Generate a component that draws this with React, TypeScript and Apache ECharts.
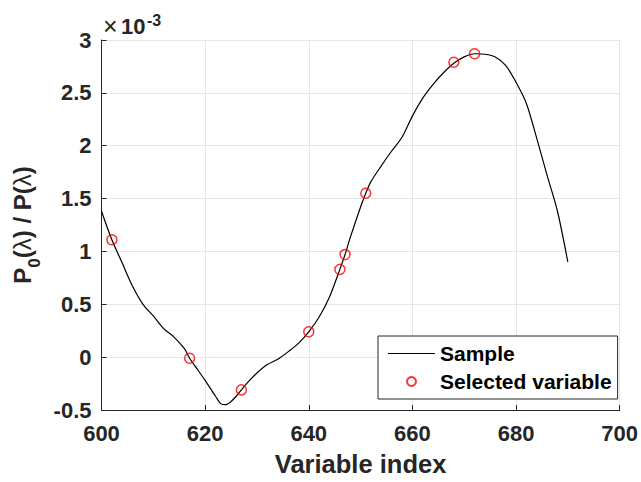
import React, { useEffect, useRef } from "react";
import * as echarts from "echarts";

// Values shown in units of 1e-3 (the axis carries the "×10^-3" multiplier)
const sampleIndex = [600, 602, 604, 606, 608, 610, 612, 614, 616, 617, 618, 620, 622, 623, 624, 625, 626, 627, 628, 630, 632, 634, 636, 638, 640, 642, 644, 646, 647, 648, 650, 651, 652, 654, 656, 658, 660, 662, 664, 666, 668, 670, 672, 674, 676, 678, 680, 682, 684, 686, 688, 690];
const sampleValue = [1.38, 1.11, 0.89, 0.67, 0.5, 0.39, 0.27, 0.19, 0.08, -0.01, -0.08, -0.22, -0.37, -0.44, -0.45, -0.42, -0.37, -0.31, -0.25, -0.15, -0.07, -0.02, 0.05, 0.13, 0.24, 0.38, 0.57, 0.83, 0.97, 1.13, 1.42, 1.55, 1.66, 1.81, 1.95, 2.08, 2.28, 2.45, 2.58, 2.69, 2.78, 2.84, 2.87, 2.865, 2.84, 2.76, 2.6, 2.4, 2.07, 1.72, 1.38, 0.9];

const selectedIndex = [602, 617, 627, 640, 646, 647, 651, 668, 672];
const selectedValue = [1.11, -0.01, -0.31, 0.24, 0.83, 0.97, 1.55, 2.79, 2.87];

const xTicks = { min: 600, max: 700, interval: 20 };
const yTicks = { min: -0.5, max: 3, interval: 0.5 };

const FONT = "'Liberation Sans', Arial, Helvetica, sans-serif";
const DARK = "#262626";

export default function App() {
  const ref = useRef<HTMLDivElement>(null);

  useEffect(() => {
    if (!ref.current) return;
    const chart = echarts.init(ref.current, undefined, { renderer: "svg" });
    chart.setOption({
      animation: false,
      backgroundColor: "#ffffff",
      grid: { left: 101.5, right: 19.3, top: 40, bottom: 70.3, containLabel: false },
      xAxis: {
        type: "value",
        min: xTicks.min,
        max: xTicks.max,
        interval: xTicks.interval,
        name: "Variable index",
        nameLocation: "middle",
        nameGap: 41,
        nameTextStyle: { fontFamily: FONT, fontWeight: "bold", fontSize: 25.5, color: DARK },
        axisLine: { onZero: false, lineStyle: { color: DARK, width: 1 } },
        axisTick: { inside: true, length: 5, lineStyle: { color: DARK } },
        axisLabel: { fontFamily: FONT, fontWeight: "bold", fontSize: 22, color: DARK, margin: 12 },
        splitLine: { show: true, lineStyle: { color: "#e6e6e6", width: 1 } },
      },
      yAxis: {
        type: "value",
        min: yTicks.min,
        max: yTicks.max,
        interval: yTicks.interval,
        name: "{b|P}{sub|0}{b|(}{l|λ}{b|) / P(}{l|λ}{b|)}",
        nameLocation: "middle",
        nameRotate: 90,
        nameGap: 54,
        nameTextStyle: {
          rich: {
            b: { fontFamily: FONT, fontWeight: "bold", fontSize: 24, color: DARK, lineHeight: 40 },
            l: { fontFamily: FONT, fontWeight: "normal", fontSize: 24, color: DARK, lineHeight: 40 },
            sub: { fontFamily: FONT, fontWeight: "bold", fontSize: 17, color: DARK, lineHeight: 40, verticalAlign: "bottom" },
          },
        },
        axisLine: { show: true, onZero: false, lineStyle: { color: DARK, width: 1 } },
        axisTick: { show: true, inside: true, length: 5, lineStyle: { color: DARK } },
        axisLabel: { fontFamily: FONT, fontWeight: "bold", fontSize: 22, color: DARK, margin: 10 },
        splitLine: { show: true, lineStyle: { color: "#e6e6e6", width: 1 } },
      },
      legend: {
        orient: "vertical",
        left: 378,
        top: 336,
        padding: [7, 6, 7, 10],
        itemGap: 7,
        itemWidth: 47,
        itemHeight: 9,
        borderColor: DARK,
        borderWidth: 1,
        borderRadius: 0,
        backgroundColor: "#ffffff",
        textStyle: { fontFamily: FONT, fontWeight: "bold", fontSize: 21, color: "#000000", lineHeight: 20 },
        data: [
          { name: "Sample", icon: "path://M0,0H47V1.2H0Z" },
          { name: "Selected variable", icon: "circle" },
        ],
      },
      graphic: [
        { type: "text", left: 103, top: 13, style: { text: "×", fontFamily: FONT, fontSize: 25, fill: DARK } },
        { type: "text", left: 121, top: 15, style: { text: "10", fontFamily: FONT, fontWeight: "bold", fontSize: 22, fill: DARK } },
        { type: "text", left: 147, top: 12, style: { text: "-3", fontFamily: FONT, fontWeight: "bold", fontSize: 16, fill: DARK } },
      ],
      series: [
        {
          name: "Sample",
          type: "line",
          data: sampleIndex.map((x, i) => [x, sampleValue[i]]),
          symbol: "none",
          smooth: 0.3,
          lineStyle: { color: "#000000", width: 1.2 },
          itemStyle: { color: "#000000" },
          z: 2,
        },
        {
          name: "Selected variable",
          type: "scatter",
          data: selectedIndex.map((x, i) => [x, selectedValue[i]]),
          symbol: "circle",
          symbolSize: 10,
          itemStyle: { color: "rgba(0,0,0,0)", borderColor: "#ff0000", borderWidth: 1.5 },
          z: 3,
        },
      ],
    });
    return () => chart.dispose();
  }, []);

  return <div ref={ref} style={{ width: 641, height: 482, position: "absolute", left: 0, top: 0 }} />;
}
